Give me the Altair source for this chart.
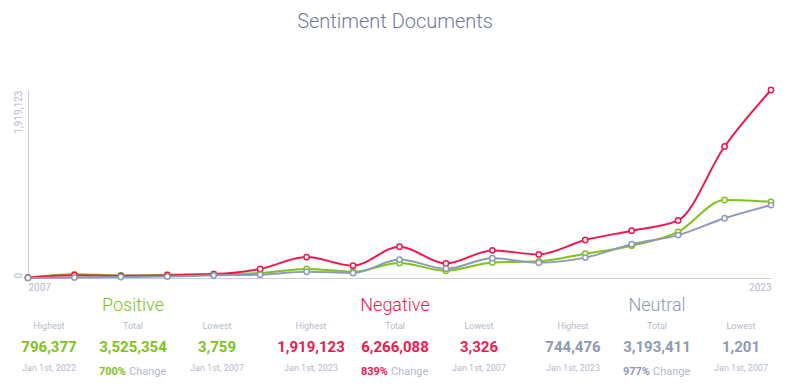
import altair as alt
import pandas as pd

# ---------------- data ----------------
years = list(range(2007, 2024))
positive = [3759, 38000, 26000, 33000, 40000, 51000, 92000, 64000, 153000, 74000,
            159000, 170000, 248000, 330000, 470000, 796377, 777218]
negative = [3326, 28000, 22000, 28000, 40000, 92000, 214000, 126000, 320000, 149000,
            282000, 241000, 388000, 483000, 588000, 1342639, 1919123]
neutral = [1201, 4000, 10000, 15000, 27734, 34000, 64000, 51000, 188000, 95000,
           202000, 156000, 208000, 345000, 438000, 610000, 744476]
series_names = ["Positive", "Negative", "Neutral"]
series_colors = ["#7cc41a", "#f0174f", "#8e9ab5"]
change_pct = ["700%", "839%", "977%"]
stat_labels = ["Highest", "Total", "Lowest"]
change_word = "Change"
chart_title = "Sentiment Documents"

series_values = [positive, negative, neutral]

LABEL = "#b3bacb"
AXIS = "#c9cedb"
TITLE = "#6f7a98"
FONT = "Roboto"


def fmt_date(year):
    return f"Jan 1st, {year}"


rows = []
for name, vals in zip(series_names, series_values):
    for yr, v in zip(years, vals):
        rows.append({"year": yr, "series": name, "count": v})
df = pd.DataFrame(rows)

stats_rows = []
for i, (name, vals) in enumerate(zip(series_names, series_values)):
    hi, lo = max(vals), min(vals)
    stats_rows.append({
        "series": name, "gi": i,
        "highest": f"{hi:,}", "total": f"{sum(vals):,}", "lowest": f"{lo:,}",
        "hi_date": fmt_date(years[vals.index(hi)]),
        "lo_date": fmt_date(years[vals.index(lo)]),
        "change": change_pct[i],
    })
stats = pd.DataFrame(stats_rows)

y_max = max(max(v) for v in series_values)

# ---------------- main plot ----------------
color = alt.Color("series:N", scale=alt.Scale(domain=series_names, range=series_colors), legend=None)

x_enc = alt.X(
    "year:Q",
    scale=alt.Scale(domain=[years[0], years[-1]], nice=False, zero=False),
    axis=alt.Axis(values=[years[0], years[-1]], format="d", title=None, grid=False, ticks=False,
                  labelFlush=True, labelPadding=4, labelFontSize=10, labelColor=LABEL, labelFont=FONT,
                  domainColor=AXIS, domainWidth=1),
)
y_enc = alt.Y(
    "count:Q",
    scale=alt.Scale(domain=[0, y_max], nice=False),
    axis=alt.Axis(values=[0, y_max], format=",d", title=None, grid=False, ticks=False,
                  labelAngle=270,
                  labelAlign={"condition": {"test": "datum.value == 0", "value": "left"}, "value": "right"},
                  labelBaseline="bottom", labelPadding=5, labelFontSize=10, labelColor=LABEL,
                  labelFont=FONT, domainColor=AXIS, domainWidth=1),
)

lines = alt.Chart(df).mark_line(interpolate="monotone", strokeWidth=2).encode(
    x=x_enc, y=y_enc, color=color
)
points = alt.Chart(df).mark_point(
    shape="circle", size=28, strokeWidth=1.5, filled=False, fill="white", fillOpacity=1, opacity=1
).encode(x=x_enc, y=y_enc, color=color)

main = alt.layer(lines, points)

# ---------------- title ----------------
title_layer = alt.Chart(pd.DataFrame({"t": [chart_title]})).mark_text(
    font=FONT, fontSize=20, fontWeight=300, color=TITLE, align="center", baseline="alphabetic"
).encode(x=alt.value(367), y=alt.value(-62), text="t:N")

# ---------------- stats panel ----------------
gx = alt.X("gi:Q", scale=alt.Scale(domain=[0, 2], range=[105, 629]), axis=None)
COL = 84


def txt(y, dx=0, size=9, weight=400, colored=False, text=None, field=None, align="center"):
    mk = alt.Chart(stats).mark_text(
        font=FONT, fontSize=size, fontWeight=weight, dx=dx, align=align, baseline="alphabetic",
        **({"text": text} if text is not None else {}),
        **({} if colored else {"color": LABEL}),
    )
    enc = {"x": gx, "y": alt.value(y)}
    if field is not None:
        enc["text"] = alt.Text(f"{field}:N")
    if colored:
        enc["color"] = color
    return mk.encode(**enc)


stat_layers = [
    txt(221, size=18, weight=300, colored=True, field="series"),
    txt(239, dx=-COL, text=stat_labels[0]),
    txt(239, dx=0, text=stat_labels[1]),
    txt(239, dx=COL, text=stat_labels[2]),
    txt(261.5, dx=-COL, size=15, weight="bold", colored=True, field="highest"),
    txt(261.5, dx=0, size=15, weight="bold", colored=True, field="total"),
    txt(261.5, dx=COL, size=15, weight="bold", colored=True, field="lowest"),
    txt(280.5, dx=-COL, field="hi_date"),
    txt(280.5, dx=COL, field="lo_date"),
    txt(284.5, dx=-7, size=11, weight="bold", colored=True, field="change", align="right"),
    txt(284.5, dx=-4, size=11, text=change_word, align="left"),
]

chart = alt.layer(main, title_layer, *stat_layers).resolve_scale(x="independent").properties(
    width=743,
    height=188,
    autosize=alt.AutoSizeParams(type="none"),
    padding={"left": 20, "top": 82, "right": 17, "bottom": 104},
).configure_view(stroke=None)

chart.save("out.html", embed_options={"renderer": "svg", "actions": False})
